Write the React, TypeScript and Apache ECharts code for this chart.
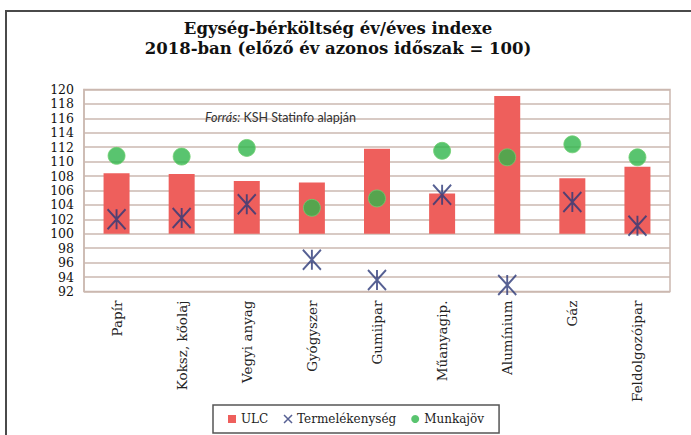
import React, { useEffect, useRef } from "react";
import * as echarts from "echarts";

const titleLines = [
  "Egység-bérköltség év/éves indexe",
  "2018-ban (előző év azonos időszak = 100)",
];
const categories = [
  "Papír",
  "Koksz, kőolaj",
  "Vegyi anyag",
  "Gyógyszer",
  "Gumiipar",
  "Műanyagip.",
  "Alumínium",
  "Gáz",
  "Feldolgozóipar",
];
const ulc = [108.4, 108.3, 107.3, 107.1, 111.8, 105.6, 119.1, 107.7, 109.3];
const termelekenyseg = [102.0, 102.2, 104.1, 96.4, 93.6, 105.4, 92.9, 104.4, 101.1];
const munkajov = [110.8, 110.7, 111.9, 103.6, 104.9, 111.5, 110.6, 112.4, 110.6];
const BASE = 100;
const Y_MIN = 92;
const Y_MAX = 120;
const Y_STEP = 2;

const GRID_COLOR = "#cbb8b0";
const RED = "#ee5f5c";
const NAVY = "#2c3878";
const GREEN = "#30b54b";
const STAR = "path://M0,0L20,22M20,0L0,22M10,0L10,22";
const SERIF = "'DejaVu Serif', serif";

export default function App() {
  const ref = useRef<HTMLDivElement>(null);
  useEffect(() => {
    document.body.style.margin = "0";
    if (!ref.current) return;
    const chart = echarts.init(ref.current, null, { renderer: "svg" });
    const legendText = { fontFamily: SERIF, fontSize: 12, color: "#222" };
    chart.setOption({
      animation: false,
      backgroundColor: "#ffffff",
      graphic: [
        {
          type: "rect",
          z: 100,
          shape: { x: 6, y: 11, width: 700, height: 440 },
          style: { fill: "none", stroke: "#4a4a4a", lineWidth: 2 },
          silent: true,
        },
        {
          type: "text",
          x: 338,
          y: 28,
          style: {
            text: titleLines[0],
            align: "center",
            verticalAlign: "middle",
            font: "bold 16.5px 'DejaVu Serif'",
            fill: "#111",
          },
        },
        {
          type: "text",
          x: 338,
          y: 48,
          style: {
            text: titleLines[1],
            align: "center",
            verticalAlign: "middle",
            font: "bold 16.5px 'DejaVu Serif'",
            fill: "#111",
          },
        },
        {
          type: "text",
          x: 205,
          y: 117,
          z: 50,
          style: {
            text: "{i|Forrás:} KSH Statinfo alapján",
            verticalAlign: "middle",
            font: "12.5px Lato",
            fill: "#333",
            rich: {
              i: { fontStyle: "italic", fontFamily: "Lato", fontSize: 12.5, fill: "#333" },
            },
          },
        },
      ],
      grid: {
        left: 84,
        right: 21,
        top: 89.5,
        bottom: 143.5,
        show: true,
        borderColor: GRID_COLOR,
        borderWidth: 1.5,
        backgroundColor: "transparent",
      },
      legend: {
        left: 213,
        top: 405,
        padding: [8, 15],
        itemGap: 15,
        itemWidth: 8,
        itemHeight: 8,
        borderColor: "#555",
        borderWidth: 1.5,
        backgroundColor: "#fff",
        textStyle: legendText,
        data: [
          { name: "ULC", icon: "rect", itemStyle: { color: RED }, textStyle: legendText },
          {
            name: "Termelékenység",
            icon: "path://M0,0L10,10M10,0L0,10",
            itemStyle: { color: NAVY, borderColor: NAVY, borderWidth: 1.5 },
            textStyle: legendText,
          },
          {
            name: "Munkajöv",
            icon: "circle",
            itemStyle: { color: GREEN, borderWidth: 0 },
            textStyle: legendText,
          },
        ],
      },
      xAxis: {
        type: "category",
        data: categories,
        axisLine: { show: false },
        axisTick: { show: false },
        axisLabel: {
          rotate: 90,
          margin: 9,
          fontFamily: SERIF,
          fontSize: 13.5,
          color: "#222",
          interval: 0,
        },
        splitLine: { show: false },
      },
      yAxis: {
        type: "value",
        min: Y_MIN,
        max: Y_MAX,
        interval: Y_STEP,
        axisLine: { show: true, lineStyle: { color: GRID_COLOR, width: 1.5 } },
        axisTick: { show: false },
        axisLabel: {
          margin: 10,
          fontFamily: SERIF,
          fontSize: 12.5,
          color: "#111",
        },
        splitLine: { show: true, lineStyle: { color: GRID_COLOR, width: 1.5 } },
      },
      series: [
        {
          name: "base",
          type: "bar",
          stack: "ulc",
          barWidth: 26,
          data: categories.map(() => BASE),
          itemStyle: { color: "transparent" },
          silent: true,
        },
        {
          name: "ULC",
          type: "bar",
          stack: "ulc",
          barWidth: 26,
          data: ulc.map((v) => +(v - BASE).toFixed(2)),
          itemStyle: { color: RED },
        },
        {
          name: "Munkajöv",
          type: "scatter",
          data: munkajov,
          symbol: "circle",
          symbolSize: 17,
          itemStyle: { color: GREEN, borderColor: "#6fd070", borderWidth: 1 },
          z: 3,
        },
        {
          name: "Termelékenység",
          type: "scatter",
          data: termelekenyseg,
          symbol: STAR,
          symbolSize: [18, 20],
          itemStyle: { color: NAVY, borderColor: NAVY, borderWidth: 2 },
          z: 4,
        },
      ],
    });
    return () => chart.dispose();
  }, []);
  return <div ref={ref} style={{ width: 691, height: 435 }} />;
}
